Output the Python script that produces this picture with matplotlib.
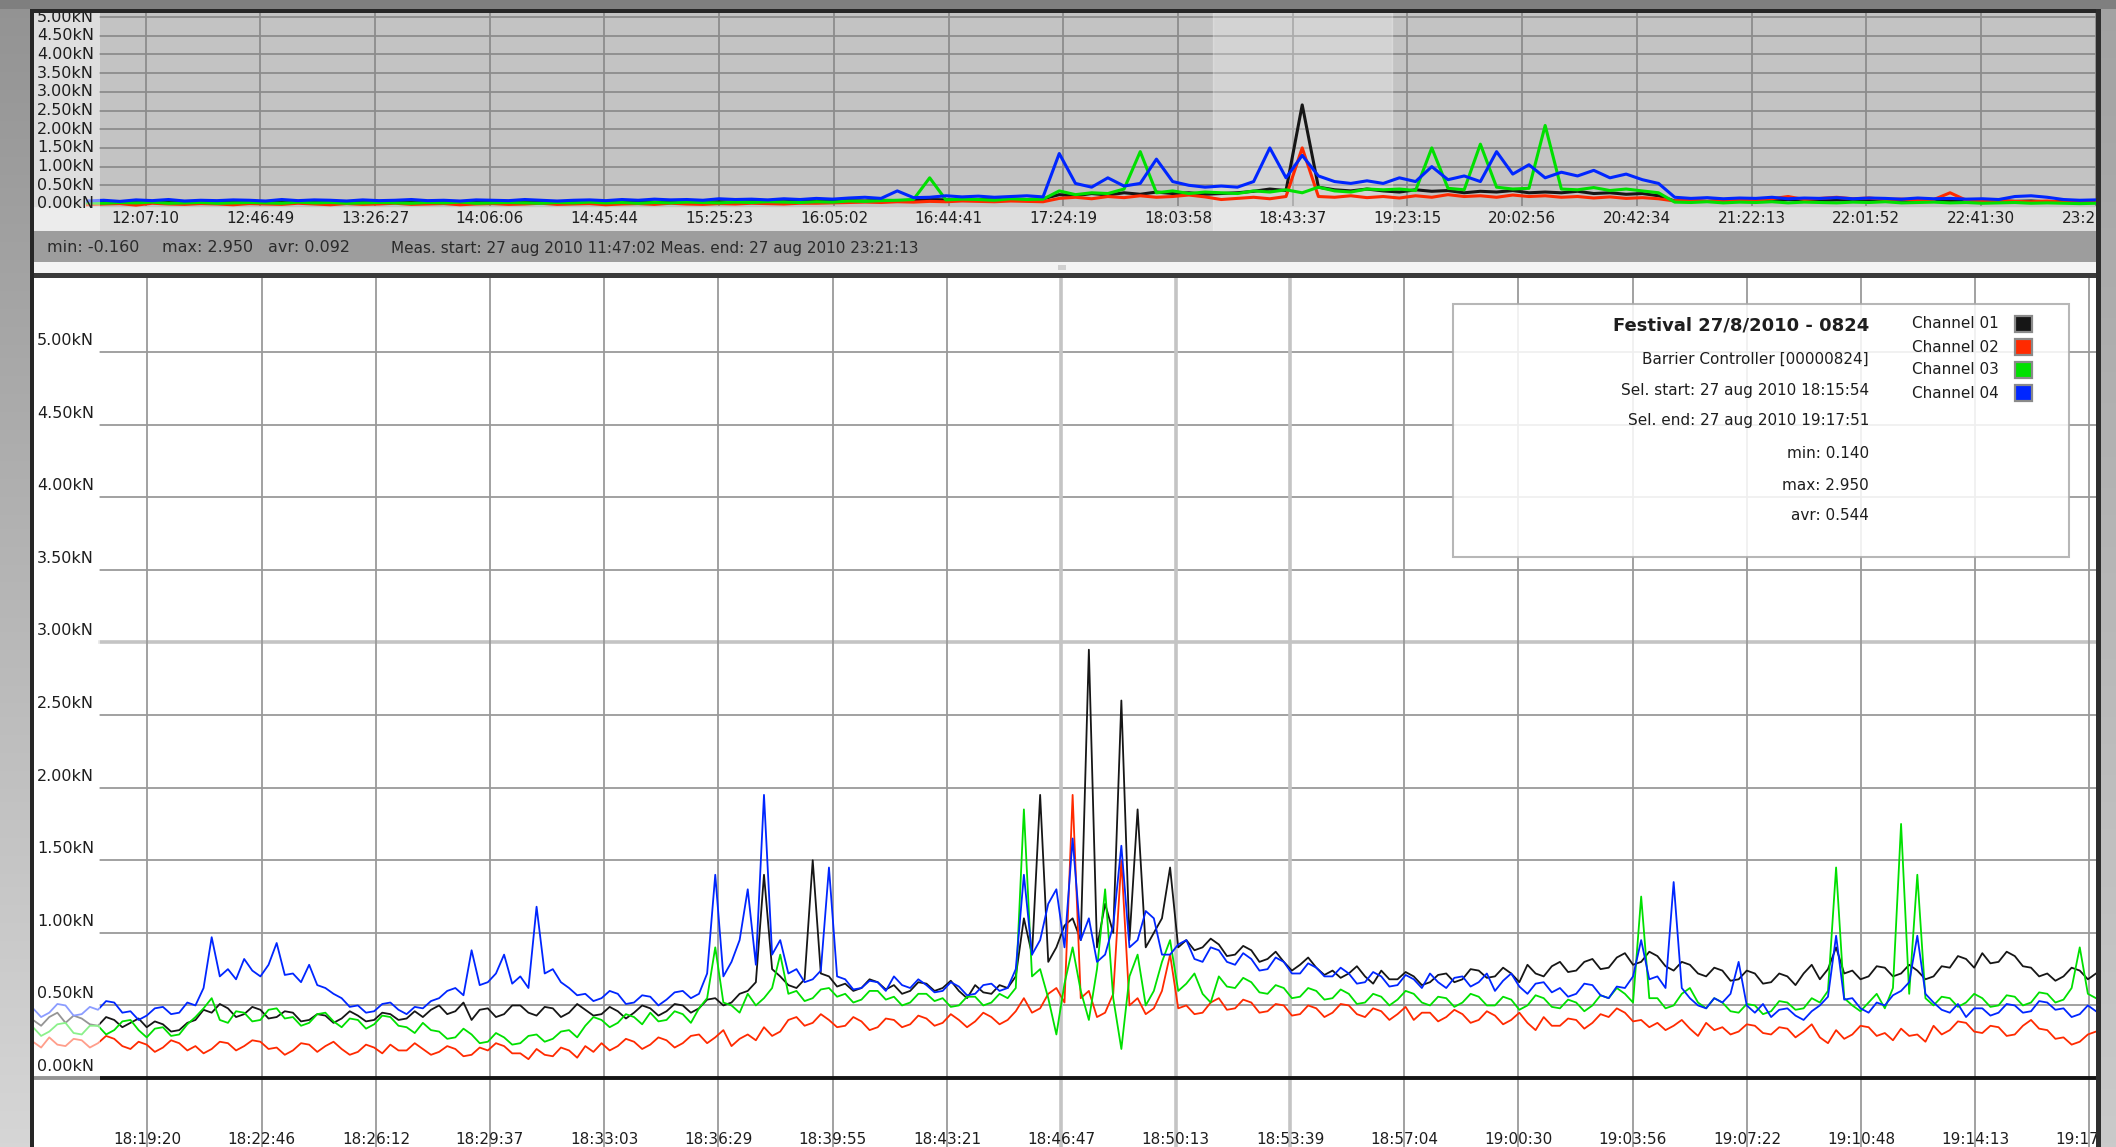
import numpy as np
import matplotlib.pyplot as plt
from matplotlib.patches import Rectangle
from matplotlib.colors import LinearSegmentedColormap

W, H = 2116, 1147

# ---- data -------------------------------------------------------------
meas_start, meas_end = '11:47:02', '23:21:13'
sel_start, sel_end = '18:15:54', '19:17:51'

ov_ticks = ['12:07:10', '12:46:49', '13:26:27', '14:06:06', '14:45:44', '15:25:23',
            '16:05:02', '16:44:41', '17:24:19', '18:03:58', '18:43:37', '19:23:15',
            '20:02:56', '20:42:34', '21:22:13', '22:01:52', '22:41:30', '23:21:09']
main_ticks = ['18:19:20', '18:22:46', '18:26:12', '18:29:37', '18:33:03', '18:36:29',
              '18:39:55', '18:43:21', '18:46:47', '18:50:13', '18:53:39', '18:57:04',
              '19:00:30', '19:03:56', '19:07:22', '19:10:48', '19:14:13', '19:17:39']
y_ticks = [0.0, 0.5, 1.0, 1.5, 2.0, 2.5, 3.0, 3.5, 4.0, 4.5, 5.0]

channels = ['Channel 01', 'Channel 02', 'Channel 03', 'Channel 04']
colors = ['#161616', '#ff2a00', '#00e000', '#0026ff']

# selection window (kN)
ch1 = [0.40, 0.36, 0.42, 0.45, 0.38, 0.43, 0.41, 0.37, 0.36, 0.42, 0.40, 0.35, 0.38, 0.41, 0.35, 0.39, 0.37, 0.32, 0.33, 0.38,
       0.40, 0.47, 0.45, 0.51, 0.48, 0.42, 0.44, 0.49, 0.47, 0.41, 0.42, 0.46, 0.45, 0.39, 0.40, 0.44, 0.43, 0.38, 0.41, 0.46,
       0.43, 0.39, 0.40, 0.45, 0.44, 0.40, 0.41, 0.46, 0.42, 0.47, 0.50, 0.44, 0.46, 0.52, 0.40, 0.47, 0.48, 0.42, 0.44, 0.50,
       0.50, 0.45, 0.43, 0.49, 0.48, 0.42, 0.45, 0.51, 0.47, 0.43, 0.44, 0.49, 0.46, 0.41, 0.45, 0.50, 0.48, 0.43, 0.46, 0.51,
       0.50, 0.45, 0.48, 0.54, 0.55, 0.50, 0.52, 0.58, 0.60, 0.66, 1.40, 0.75, 0.70, 0.64, 0.62, 0.68, 1.50, 0.72, 0.70, 0.63,
       0.65, 0.60, 0.62, 0.68, 0.66, 0.61, 0.64, 0.58, 0.60, 0.66, 0.65, 0.60, 0.62, 0.67, 0.60, 0.55, 0.64, 0.59, 0.58, 0.64,
       0.62, 0.70, 1.10, 0.85, 1.95, 0.80, 0.90, 1.05, 1.10, 0.95, 2.95, 0.90, 1.20, 1.00, 2.60, 0.95, 1.85, 0.90, 1.00, 1.10,
       1.45, 0.90, 0.95, 0.88, 0.90, 0.96, 0.92, 0.84, 0.85, 0.91, 0.88, 0.80, 0.82, 0.87, 0.80, 0.74, 0.78, 0.83, 0.76, 0.71,
       0.74, 0.69, 0.72, 0.77, 0.70, 0.65, 0.74, 0.68, 0.68, 0.73, 0.70, 0.64, 0.66, 0.71, 0.72, 0.66, 0.68, 0.75, 0.74, 0.69,
       0.70, 0.76, 0.72, 0.66, 0.78, 0.72, 0.70, 0.77, 0.80, 0.73, 0.74, 0.80, 0.82, 0.75, 0.76, 0.83, 0.86, 0.78, 0.80, 0.87,
       0.84, 0.77, 0.74, 0.80, 0.78, 0.72, 0.70, 0.76, 0.74, 0.67, 0.68, 0.74, 0.72, 0.65, 0.66, 0.72, 0.70, 0.64, 0.72, 0.78,
       0.68, 0.75, 0.90, 0.72, 0.74, 0.68, 0.70, 0.77, 0.76, 0.70, 0.72, 0.78, 0.74, 0.68, 0.70, 0.77, 0.76, 0.84, 0.82, 0.76,
       0.86, 0.79, 0.80, 0.87, 0.84, 0.77, 0.76, 0.70, 0.72, 0.67, 0.70, 0.76, 0.74, 0.68, 0.72]
ch2 = [0.25, 0.21, 0.28, 0.23, 0.22, 0.27, 0.26, 0.21, 0.24, 0.29, 0.27, 0.22, 0.20, 0.25, 0.23, 0.18, 0.21, 0.26, 0.24, 0.19,
       0.22, 0.17, 0.20, 0.25, 0.24, 0.19, 0.22, 0.26, 0.25, 0.20, 0.21, 0.16, 0.19, 0.24, 0.23, 0.18, 0.22, 0.25, 0.20, 0.16,
       0.18, 0.23, 0.21, 0.17, 0.23, 0.19, 0.19, 0.24, 0.20, 0.16, 0.18, 0.22, 0.20, 0.15, 0.16, 0.21, 0.19, 0.24, 0.22, 0.17,
       0.17, 0.13, 0.20, 0.16, 0.15, 0.21, 0.19, 0.14, 0.22, 0.18, 0.24, 0.19, 0.22, 0.27, 0.25, 0.20, 0.23, 0.28, 0.26, 0.21,
       0.24, 0.29, 0.30, 0.24, 0.28, 0.33, 0.22, 0.27, 0.30, 0.26, 0.35, 0.29, 0.32, 0.40, 0.42, 0.36, 0.38, 0.44, 0.40, 0.35,
       0.36, 0.42, 0.39, 0.33, 0.35, 0.41, 0.40, 0.35, 0.37, 0.43, 0.41, 0.36, 0.38, 0.44, 0.40, 0.35, 0.39, 0.45, 0.42, 0.37,
       0.40, 0.46, 0.55, 0.45, 0.48, 0.58, 0.62, 0.52, 1.95, 0.55, 0.60, 0.42, 0.45, 0.58, 1.50, 0.50, 0.55, 0.44, 0.48, 0.60,
       0.85, 0.48, 0.50, 0.44, 0.45, 0.52, 0.55, 0.47, 0.48, 0.54, 0.52, 0.45, 0.46, 0.51, 0.50, 0.43, 0.44, 0.50, 0.48, 0.42,
       0.45, 0.51, 0.50, 0.44, 0.42, 0.48, 0.46, 0.40, 0.44, 0.49, 0.40, 0.45, 0.45, 0.39, 0.42, 0.47, 0.44, 0.38, 0.40, 0.46,
       0.43, 0.37, 0.40, 0.45, 0.38, 0.33, 0.42, 0.36, 0.36, 0.41, 0.40, 0.34, 0.38, 0.44, 0.42, 0.48, 0.45, 0.39, 0.40, 0.35,
       0.38, 0.33, 0.36, 0.40, 0.34, 0.29, 0.38, 0.33, 0.35, 0.30, 0.32, 0.37, 0.36, 0.31, 0.30, 0.35, 0.34, 0.28, 0.32, 0.37,
       0.28, 0.24, 0.33, 0.27, 0.30, 0.36, 0.35, 0.29, 0.31, 0.26, 0.34, 0.29, 0.30, 0.25, 0.36, 0.30, 0.33, 0.39, 0.38, 0.32,
       0.31, 0.36, 0.35, 0.29, 0.30, 0.36, 0.40, 0.34, 0.33, 0.27, 0.28, 0.23, 0.25, 0.30, 0.32]
ch3 = [0.35, 0.29, 0.32, 0.37, 0.38, 0.31, 0.30, 0.36, 0.36, 0.30, 0.33, 0.39, 0.40, 0.33, 0.28, 0.34, 0.35, 0.29, 0.30, 0.37,
       0.42, 0.48, 0.55, 0.40, 0.38, 0.46, 0.45, 0.39, 0.40, 0.47, 0.48, 0.41, 0.42, 0.36, 0.38, 0.44, 0.45, 0.39, 0.35, 0.41,
       0.40, 0.34, 0.37, 0.43, 0.42, 0.36, 0.35, 0.31, 0.38, 0.33, 0.32, 0.27, 0.28, 0.34, 0.30, 0.24, 0.25, 0.31, 0.28, 0.23,
       0.24, 0.29, 0.30, 0.25, 0.27, 0.32, 0.33, 0.28, 0.36, 0.42, 0.40, 0.35, 0.38, 0.44, 0.42, 0.37, 0.45, 0.39, 0.40, 0.46,
       0.44, 0.38, 0.48, 0.55, 0.90, 0.52, 0.50, 0.45, 0.58, 0.50, 0.55, 0.62, 0.85, 0.58, 0.60, 0.53, 0.55, 0.61, 0.62, 0.56,
       0.58, 0.52, 0.54, 0.60, 0.60, 0.54, 0.56, 0.50, 0.52, 0.58, 0.58, 0.53, 0.55, 0.49, 0.50, 0.56, 0.56, 0.50, 0.52, 0.58,
       0.55, 0.62, 1.85, 0.70, 0.75, 0.55, 0.30, 0.65, 0.90, 0.60, 0.40, 0.75, 1.30, 0.55, 0.20, 0.70, 0.85, 0.50, 0.60, 0.80,
       0.95, 0.60, 0.65, 0.72, 0.58, 0.52, 0.70, 0.63, 0.62, 0.69, 0.66, 0.59, 0.58, 0.64, 0.62, 0.55, 0.56, 0.62, 0.60, 0.54,
       0.55, 0.61, 0.58, 0.51, 0.52, 0.58, 0.56, 0.50, 0.54, 0.60, 0.58, 0.52, 0.50, 0.56, 0.55, 0.49, 0.52, 0.58, 0.56, 0.50,
       0.50, 0.56, 0.54, 0.47, 0.50, 0.57, 0.55, 0.49, 0.48, 0.54, 0.52, 0.46, 0.50, 0.57, 0.55, 0.62, 0.58, 0.52, 1.25, 0.55,
       0.55, 0.48, 0.50, 0.58, 0.62, 0.52, 0.48, 0.55, 0.52, 0.46, 0.45, 0.51, 0.50, 0.44, 0.46, 0.53, 0.52, 0.47, 0.48, 0.55,
       0.52, 0.60, 1.45, 0.55, 0.50, 0.46, 0.52, 0.58, 0.48, 0.62, 1.75, 0.58, 1.40, 0.55, 0.50, 0.56, 0.55, 0.49, 0.52, 0.58,
       0.55, 0.49, 0.50, 0.57, 0.56, 0.50, 0.52, 0.59, 0.58, 0.52, 0.54, 0.62, 0.90, 0.58, 0.55]
ch4 = [0.48, 0.42, 0.45, 0.51, 0.50, 0.43, 0.44, 0.49, 0.47, 0.53, 0.52, 0.45, 0.46, 0.40, 0.43, 0.48, 0.49, 0.44, 0.45, 0.52,
       0.50, 0.62, 0.97, 0.70, 0.75, 0.68, 0.82, 0.74, 0.70, 0.78, 0.93, 0.71, 0.72, 0.66, 0.78, 0.64, 0.62, 0.58, 0.55, 0.49,
       0.50, 0.45, 0.46, 0.51, 0.52, 0.47, 0.44, 0.49, 0.48, 0.53, 0.55, 0.60, 0.62, 0.57, 0.88, 0.64, 0.66, 0.72, 0.85, 0.65,
       0.70, 0.62, 1.18, 0.72, 0.75, 0.66, 0.62, 0.57, 0.58, 0.53, 0.55, 0.60, 0.58, 0.51, 0.52, 0.57, 0.56, 0.50, 0.54, 0.59,
       0.60, 0.55, 0.58, 0.72, 1.40, 0.70, 0.80, 0.95, 1.30, 0.78, 1.95, 0.85, 0.95, 0.72, 0.75, 0.66, 0.68, 0.74, 1.45, 0.70,
       0.68, 0.61, 0.62, 0.67, 0.66, 0.60, 0.70, 0.64, 0.62, 0.68, 0.64, 0.59, 0.60, 0.66, 0.63, 0.57, 0.58, 0.64, 0.65, 0.60,
       0.62, 0.75, 1.40, 0.85, 0.95, 1.20, 1.30, 0.90, 1.65, 0.95, 1.10, 0.80, 0.85, 1.05, 1.60, 0.90, 0.95, 1.15, 1.10, 0.85,
       0.85, 0.92, 0.95, 0.82, 0.80, 0.90, 0.88, 0.80, 0.78, 0.86, 0.82, 0.74, 0.75, 0.83, 0.80, 0.72, 0.72, 0.79, 0.76, 0.70,
       0.70, 0.76, 0.72, 0.65, 0.66, 0.73, 0.70, 0.63, 0.64, 0.71, 0.68, 0.62, 0.72, 0.66, 0.62, 0.69, 0.70, 0.63, 0.66, 0.72,
       0.60, 0.67, 0.72, 0.63, 0.58, 0.65, 0.66, 0.59, 0.62, 0.56, 0.58, 0.65, 0.64, 0.57, 0.55, 0.63, 0.62, 0.70, 0.95, 0.68,
       0.70, 0.62, 1.35, 0.62, 0.55, 0.50, 0.48, 0.55, 0.52, 0.58, 0.80, 0.50, 0.45, 0.51, 0.42, 0.47, 0.48, 0.43, 0.40, 0.46,
       0.50, 0.56, 0.98, 0.54, 0.55, 0.48, 0.45, 0.52, 0.50, 0.57, 0.60, 0.66, 0.98, 0.58, 0.52, 0.47, 0.45, 0.51, 0.42, 0.48,
       0.48, 0.43, 0.45, 0.51, 0.50, 0.45, 0.46, 0.53, 0.52, 0.47, 0.48, 0.42, 0.44, 0.50, 0.46]

# whole measurement (kN), overview strip
ov1 = [0.05, 0.04, 0.06, 0.05, 0.04, 0.06, 0.05, 0.04, 0.05, 0.06,
       0.04, 0.05, 0.06, 0.04, 0.05, 0.06, 0.05, 0.04, 0.06, 0.05,
       0.04, 0.06, 0.05, 0.04, 0.05, 0.06, 0.04, 0.05, 0.06, 0.05,
       0.04, 0.06, 0.05, 0.04, 0.06, 0.05, 0.04, 0.06, 0.05, 0.06,
       0.05, 0.06, 0.07, 0.06, 0.08, 0.07, 0.08, 0.09, 0.08, 0.10,
       0.09, 0.10, 0.12, 0.11, 0.10, 0.12, 0.11, 0.13, 0.12, 0.14,
       0.25, 0.22, 0.28, 0.24, 0.30, 0.26, 0.32, 0.28, 0.30, 0.26,
       0.28, 0.30, 0.34, 0.40, 0.36, 2.65, 0.45, 0.38, 0.35, 0.40,
       0.35, 0.32, 0.38, 0.34, 0.36, 0.30, 0.34, 0.32, 0.36, 0.30,
       0.32, 0.30, 0.34, 0.28, 0.30, 0.26, 0.28, 0.22,
       0.08, 0.09, 0.07, 0.10, 0.08, 0.11, 0.09, 0.12, 0.10, 0.09,
       0.11, 0.10, 0.12, 0.09, 0.10, 0.08, 0.11, 0.09, 0.10, 0.08,
       0.09, 0.07, 0.08, 0.06, 0.07, 0.05, 0.06]
ov2 = [-0.02, 0.00, 0.01, -0.03, 0.02, 0.00, -0.01, 0.01, 0.00, -0.02,
       0.01, 0.00, -0.01, 0.02, 0.00, -0.02, 0.01, -0.01, 0.00, 0.02,
       -0.01, 0.00, 0.01, -0.02, 0.00, 0.01, -0.01, 0.00, 0.02, -0.01,
       0.00, 0.01, -0.02, 0.00, 0.01, -0.01, 0.02, 0.00, -0.01, 0.01,
       0.00, 0.02, 0.01, 0.00, 0.02,
       0.02, 0.03, 0.04, 0.05, 0.04, 0.06, 0.05, 0.07, 0.06, 0.08,
       0.07, 0.06, 0.08, 0.07, 0.06,
       0.15, 0.18, 0.14, 0.20, 0.17, 0.22, 0.18, 0.20, 0.24, 0.19,
       0.12, 0.15, 0.18, 0.14, 0.20, 1.50, 0.20, 0.18, 0.22, 0.17,
       0.20, 0.16, 0.22, 0.18, 0.25, 0.20, 0.22, 0.18, 0.24, 0.20,
       0.22, 0.18, 0.20, 0.16, 0.19, 0.15, 0.17, 0.14,
       0.08, 0.10, 0.07, 0.09, 0.12, 0.10, 0.14, 0.20, 0.12, 0.15,
       0.18, 0.14, 0.16, 0.12, 0.13, 0.10, 0.12, 0.30, 0.10, 0.08,
       0.09, 0.07, 0.06, 0.08, 0.05, 0.04, 0.05]
ov3 = [0.03, 0.02, 0.04, 0.03, 0.05, 0.02, 0.03, 0.04, 0.02, 0.03,
       0.04, 0.03, 0.02, 0.05, 0.03, 0.04, 0.02, 0.03, 0.04, 0.03,
       0.02, 0.04, 0.03, 0.05, 0.02, 0.03, 0.04, 0.03, 0.02, 0.04,
       0.03, 0.05, 0.03, 0.04, 0.02, 0.04, 0.03, 0.05, 0.04, 0.03,
       0.05, 0.04, 0.06, 0.05, 0.04,
       0.06, 0.05, 0.08, 0.07, 0.09, 0.10, 0.12, 0.70, 0.11, 0.13,
       0.12, 0.10, 0.14, 0.12, 0.13,
       0.35, 0.25, 0.30, 0.28, 0.40, 1.40, 0.30, 0.35, 0.28, 0.32,
       0.30, 0.28, 0.35, 0.32, 0.38, 0.30, 0.45, 0.35, 0.32, 0.40,
       0.38, 0.40, 0.36, 1.50, 0.42, 0.38, 1.60, 0.45, 0.40, 0.42,
       2.10, 0.40, 0.38, 0.44, 0.36, 0.40, 0.35, 0.30,
       0.05, 0.04, 0.06, 0.03, 0.05, 0.04, 0.06, 0.03, 0.05, 0.04,
       0.03, 0.05, 0.04, 0.06, 0.03, 0.04, 0.05, 0.03, 0.04, 0.02,
       0.03, 0.04, 0.02, 0.03, 0.02, 0.01, 0.02]
ov4 = [0.08, 0.10, 0.07, 0.11, 0.09, 0.12, 0.08, 0.10, 0.09, 0.11,
       0.10, 0.08, 0.12, 0.09, 0.11, 0.10, 0.08, 0.11, 0.09, 0.10,
       0.12, 0.09, 0.10, 0.08, 0.11, 0.10, 0.09, 0.12, 0.10, 0.08,
       0.10, 0.11, 0.09, 0.12, 0.10, 0.13, 0.11, 0.12, 0.10, 0.14,
       0.12, 0.13, 0.11, 0.14, 0.12, 0.15, 0.13, 0.16, 0.18, 0.15,
       0.35, 0.17, 0.18, 0.22, 0.19, 0.21, 0.18, 0.20, 0.22, 0.19,
       1.35, 0.55, 0.45, 0.70, 0.48, 0.55, 1.20, 0.60, 0.50, 0.45,
       0.48, 0.45, 0.60, 1.50, 0.70, 1.30, 0.75, 0.60, 0.55, 0.62,
       0.55, 0.70, 0.60, 1.00, 0.65, 0.75, 0.60, 1.40, 0.80, 1.05,
       0.70, 0.85, 0.75, 0.90, 0.70, 0.80, 0.65, 0.55,
       0.18, 0.15, 0.17, 0.14, 0.16, 0.15, 0.18, 0.14, 0.16, 0.15,
       0.17, 0.14, 0.16, 0.15, 0.13, 0.16, 0.14, 0.15, 0.13, 0.14,
       0.12, 0.20, 0.22, 0.18, 0.12, 0.10, 0.11]

legend_lines = ['Festival 27/8/2010 - 0824', 'Barrier Controller [00000824]',
                'Sel. start: 27 aug 2010 18:15:54', 'Sel. end: 27 aug 2010 19:17:51',
                'min: 0.140', 'max: 2.950', 'avr: 0.544']
stats = ['min: -0.160', 'max: 2.950', 'avr: 0.092',
         'Meas. start: 27 aug 2010 11:47:02 Meas. end: 27 aug 2010 23:21:13']


def to_sec(s):
    h, m, x = s.split(':')
    return int(h) * 3600 + int(m) * 60 + int(x)


plt.rcParams['font.family'] = ['DejaVu Sans']
TXT = '#1e1e1e'

fig = plt.figure(figsize=(W / 100, H / 100), dpi=100)
fig.patch.set_facecolor('#858585')


def px_rect(x0, y0, x1, y1):
    return [x0 / W, 1 - y1 / H, (x1 - x0) / W, (y1 - y0) / H]


def box(x0, y0, x1, y1, color, z=3):
    fig.add_artist(Rectangle((x0 / W, 1 - y1 / H), (x1 - x0) / W, (y1 - y0) / H,
                             transform=fig.transFigure, facecolor=color,
                             edgecolor='none', zorder=z))


def gradient_strip(x0, x1, top, bottom):
    a = fig.add_axes(px_rect(x0, 0, x1, H))
    cm = LinearSegmentedColormap.from_list('g', [top, bottom])
    a.imshow(np.linspace(0, 1, 256).reshape(-1, 1), aspect='auto', cmap=cm,
             extent=(0, 1, 1, 0))
    a.set_axis_off()


gradient_strip(0, 31, '#939393', '#d6d6d6')
gradient_strip(2100, W, '#a2a2a2', '#cacaca')
fig.add_artist(Rectangle((0, 1 - 9 / H), 1, 9 / H, transform=fig.transFigure,
                         facecolor='#7f7f7f', edgecolor='none', zorder=2))


def clean(a):
    a.set_xticks([])
    a.set_yticks([])
    for s in a.spines.values():
        s.set_visible(False)


# ---- overview strip ---------------------------------------------------
L, R = 33, 2096
ov = fig.add_axes(px_rect(L, 12, R, 231))
ov.set_facecolor('#dedede')
ov.set_xlim(41293, 84076)
ov.set_ylim(-0.722, 5.134)
clean(ov)
lab_w = (100 - L) / (R - L)

ov.axhspan(-0.05, 6, color='#c3c3c3', zorder=0)
for v in y_ticks[1:]:
    ov.axhline(v, xmin=lab_w, color='#8c8c8c', lw=1.3, zorder=1)
ov_t = [to_sec(t) for t in ov_ticks]
ov.vlines(ov_t, -0.05, 6, color='#8c8c8c', lw=1.3, zorder=1)
ov.axvspan(to_sec(sel_start), to_sec(sel_end), color='white', alpha=0.28, zorder=1.5)

ov_x = np.linspace(to_sec(meas_start), to_sec(meas_end), len(ov4))
for k, series in enumerate([ov1, ov2, ov3, ov4]):
    ov.plot(np.linspace(ov_x[0], ov_x[-1], len(series)), series,
            color=colors[k], lw=2.2, zorder=2 + k * 0.1)

for t, lab in zip(ov_t, ov_ticks):
    ov.text(t, -0.40, lab, ha='center', va='center', fontsize=11, color=TXT,
            zorder=3, clip_on=True)

ov.add_patch(Rectangle((0, 0), lab_w, 1, transform=ov.transAxes, facecolor='white',
                       alpha=0.45, edgecolor='none', zorder=4))
for v in y_ticks:
    ov.text(0.002, v, f'{v:.2f}kN', transform=ov.get_yaxis_transform(),
            ha='left', va='center', fontsize=11.5, color=TXT, zorder=5)

box(34, 231, R, 262, '#9d9d9d')
box(34, 262, R, 274, '#f3f3f3')
box(1058, 265, 1066, 270, '#cfcfcf')
stat_sizes = [11.5, 11.5, 11.5, 11]
for x, s, fs in zip([47, 162, 268, 391], stats, stat_sizes):
    fig.text(x / W, 1 - 248 / H, s, ha='left', va='center', fontsize=fs,
             color='#2a2a2a', zorder=4)

# ---- selection chart --------------------------------------------------
ax = fig.add_axes(px_rect(L, 278, R, H))
ax.set_facecolor('white')
t0, t1 = to_sec(sel_start), to_sec(sel_end)
ax.set_xlim(t0, t1)
ax.set_ylim(-0.475, 5.51)
clean(ax)

for v in y_ticks[1:]:
    light = v == 3.0
    ax.axhline(v, xmin=lab_w, color='#c4c4c4' if light else '#9a9a9a',
               lw=2.6 if light else 1.3, zorder=1)
m_t = [to_sec(t) for t in main_ticks]
for i, t in enumerate(m_t):
    light = i in (8, 9, 10)
    ax.axvline(t, color='#c4c4c4' if light else '#9a9a9a',
               lw=2.6 if light else 1.3, zorder=1)
ax.axhline(0, color='#141414', lw=2.8, zorder=4)

for k, series in enumerate([ch1, ch2, ch3, ch4]):
    ax.plot(np.linspace(t0, t1, len(series)), series, color=colors[k],
            lw=1.3, zorder=2 + k * 0.1)

for t, lab in zip(m_t, main_ticks):
    ax.text(t, -0.42, lab, ha='center', va='center', fontsize=11, color=TXT,
            zorder=3, clip_on=True)

ax.add_patch(Rectangle((0, 0), lab_w, 1, transform=ax.transAxes, facecolor='white',
                       alpha=0.55, edgecolor='none', zorder=5))
for v in y_ticks:
    ax.text(0.002, v + 4 / 145.2, f'{v:.2f}kN', transform=ax.get_yaxis_transform(),
            ha='left', va='bottom', fontsize=11.5, color=TXT, zorder=6)


def axp(x, y):
    return ((x - L) / (R - L), (H - y) / (H - 278))


# legend panel
bx0, by0 = axp(1453, 557)
bx1, by1 = axp(2069, 304)
ax.add_patch(Rectangle((bx0, by0), bx1 - bx0, by1 - by0, transform=ax.transAxes,
                       facecolor='white', alpha=0.85, edgecolor='#ababab', lw=1.5,
                       zorder=7))
for k, (s, y) in enumerate(zip(legend_lines, [325, 359, 390, 421, 453, 485, 516])):
    ax.text(*axp(1869, y), s, transform=ax.transAxes, ha='right', va='center',
            fontsize=13 if k == 0 else 11, fontweight='bold' if k == 0 else 'normal',
            color=TXT, zorder=8)
for k, (name, y) in enumerate(zip(channels, [324, 347, 370, 393])):
    ax.text(*axp(1912, y), name, transform=ax.transAxes, ha='left', va='center',
            fontsize=11, color=TXT, zorder=8)
    sx0, sy0 = axp(2015, y + 8)
    sx1, sy1 = axp(2032, y - 8)
    ax.add_patch(Rectangle((sx0, sy0), sx1 - sx0, sy1 - sy0, transform=ax.transAxes,
                           facecolor=colors[k], edgecolor='#8a8a8a', lw=1.6, zorder=8))

# frame borders
box(30, 9, 2101, 13, '#262626', z=6)
box(30, 9, 34, H, '#262626', z=6)
box(2096, 9, 2101, H, '#2e2e2e', z=6)
box(34, 273, R, 278, '#3a3a3a', z=6)

fig.savefig('out.png', dpi=100, facecolor=fig.get_facecolor())
